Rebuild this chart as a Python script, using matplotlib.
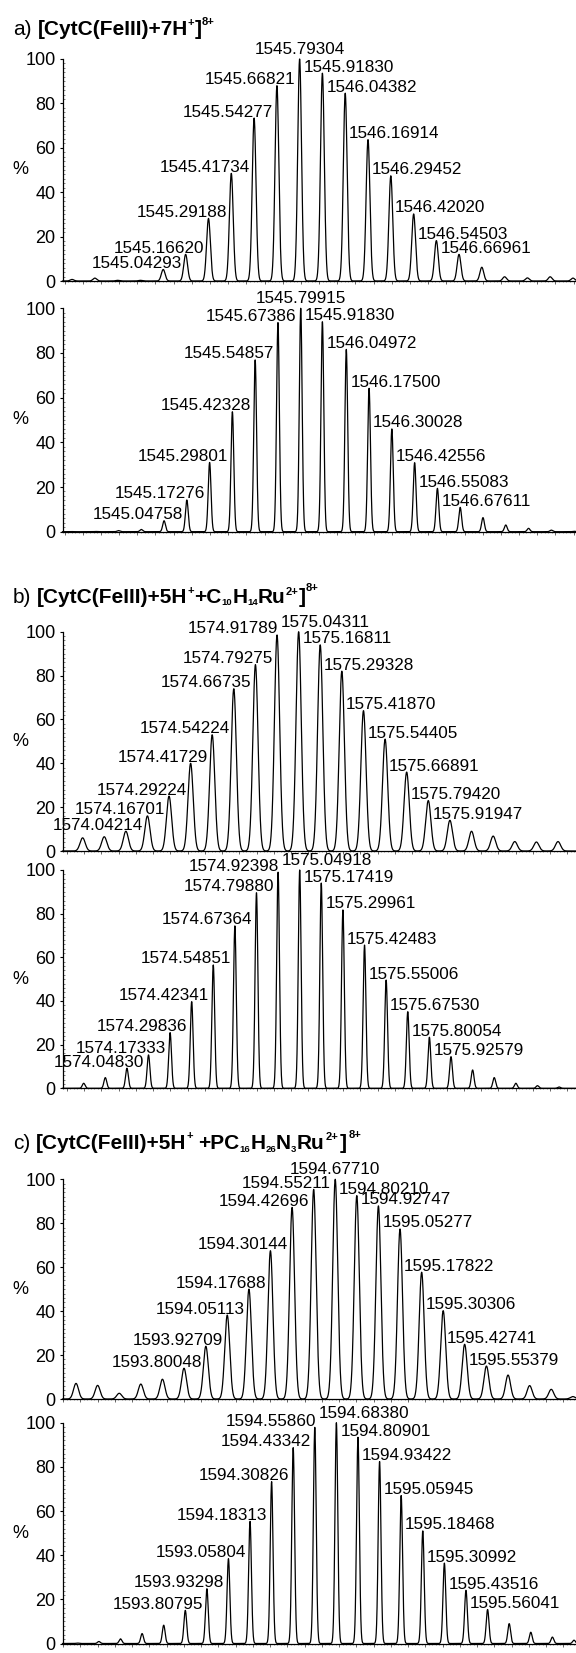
import numpy as np
import matplotlib
matplotlib.use("Agg")
import matplotlib.pyplot as plt
from matplotlib.ticker import MultipleLocator

plt.rcParams['font.family'] = ['Liberation Sans', 'DejaVu Sans']

# ---- a) [CytC(FeIII)+7H+]8+ ----
a_exp_mz = [1544.54161, 1544.66694, 1544.79227, 1544.91760,
            1545.04293, 1545.16620, 1545.29188, 1545.41734, 1545.54277,
            1545.66821, 1545.79304, 1545.91830, 1546.04382, 1546.16914,
            1546.29452, 1546.42020, 1546.54503, 1546.66961,
            1546.79494, 1546.92027, 1547.04560, 1547.17093, 1547.29626]
a_exp_int = [0.7, 1.3, 0.3, 0.3, 5.2, 12.0, 28.2, 48.5, 73.4, 88.0, 100.0,
             93.6, 84.6, 63.7, 47.4, 30.2, 18.2, 12.0, 6.2, 1.9, 1.4, 1.9, 1.3]
a_exp_lab = ['1545.04293', '1545.16620', '1545.29188', '1545.41734',
             '1545.54277', '1545.66821', '1545.79304', '1545.91830',
             '1546.04382', '1546.16914', '1546.29452', '1546.42020',
             '1546.54503', '1546.66961']
a_exp_first = 4

a_sim_mz = [1544.54626, 1544.67159, 1544.79692, 1544.92225,
            1545.04758, 1545.17276, 1545.29801, 1545.42328, 1545.54857,
            1545.67386, 1545.79915, 1545.91830, 1546.04972, 1546.17500,
            1546.30028, 1546.42556, 1546.55083, 1546.67611,
            1546.80144, 1546.92677, 1547.05210, 1547.17743, 1547.30276]
a_sim_int = [0.05, 0.1, 0.5, 1.0, 4.9, 14.2, 31.0, 53.7, 76.9, 93.6, 100.0,
             94.0, 81.6, 64.2, 46.0, 30.9, 19.4, 10.9, 6.3, 3.0, 1.5, 0.7, 0.2]
a_sim_lab = ['1545.04758', '1545.17276', '1545.29801', '1545.42328',
             '1545.54857', '1545.67386', '1545.79915', '1545.91830',
             '1546.04972', '1546.17500', '1546.30028', '1546.42556',
             '1546.55083', '1546.67611']
a_sim_first = 4

# ---- b) [CytC(FeIII)+5H+ +C10H14Ru2+]8+ ----
b_exp_mz = [1573.79160, 1573.91687,
            1574.04214, 1574.16701, 1574.29224, 1574.41729, 1574.54224,
            1574.66735, 1574.79275, 1574.91789, 1575.04311, 1575.16811,
            1575.29328, 1575.41870, 1575.54405, 1575.66891, 1575.79420,
            1575.91947,
            1576.04474, 1576.17001, 1576.29528, 1576.42055, 1576.54582]
b_exp_int = [6.0, 6.5, 9.0, 16.0, 25.0, 40.0, 53.0, 74.0, 85.0, 98.5, 100.0,
             94.0, 82.0, 64.0, 51.0, 36.0, 23.0, 14.0, 9.0, 6.8, 4.3, 4.1, 4.3]
b_exp_lab = ['1574.04214', '1574.16701', '1574.29224', '1574.41729',
             '1574.54224', '1574.66735', '1574.79275', '1574.91789',
             '1575.04311', '1575.16811', '1575.29328', '1575.41870',
             '1575.54405', '1575.66891', '1575.79420', '1575.91947']
b_exp_first = 2

b_sim_mz = [1573.79776, 1573.92303,
            1574.04830, 1574.17333, 1574.29836, 1574.42341, 1574.54851,
            1574.67364, 1574.79880, 1574.92398, 1575.04918, 1575.17419,
            1575.29961, 1575.42483, 1575.55006, 1575.67530, 1575.80054,
            1575.92579,
            1576.05104, 1576.17629, 1576.30154, 1576.42679, 1576.55204]
b_sim_int = [2.3, 4.9, 9.2, 15.3, 25.5, 39.7, 56.5, 74.4, 89.6, 99.0, 100.0,
             94.0, 81.7, 65.6, 49.6, 35.1, 23.4, 14.5, 8.4, 4.9, 2.3, 1.2, 0.6]
b_sim_lab = ['1574.04830', '1574.17333', '1574.29836', '1574.42341',
             '1574.54851', '1574.67364', '1574.79880', '1574.92398',
             '1575.04918', '1575.17419', '1575.29961', '1575.42483',
             '1575.55006', '1575.67530', '1575.80054', '1575.92579']
b_sim_first = 2

# ---- c) [CytC(FeIII)+5H+ +PC16H26N3Ru2+]8+ ----
c_exp_mz = [1593.17440, 1593.29962, 1593.42484, 1593.55006, 1593.67528,
            1593.80048, 1593.92709, 1594.05113, 1594.17688, 1594.30144,
            1594.42696, 1594.55211, 1594.67710, 1594.80210, 1594.92747,
            1595.05277, 1595.17822, 1595.30306, 1595.42741, 1595.55379,
            1595.67900, 1595.80421, 1595.92942, 1596.05463]
c_exp_int = [7.1, 6.2, 2.6, 6.8, 9.0, 14.0, 24.0, 38.2, 50.0, 67.5, 87.2,
             95.4, 100.0, 92.6, 87.9, 77.4, 57.7, 40.2, 24.9, 15.0, 10.9,
             6.1, 4.4, 1.1]
c_exp_lab = ['1593.80048', '1593.92709', '1594.05113', '1594.17688',
             '1594.30144', '1594.42696', '1594.55211', '1594.67710',
             '1594.80210', '1594.92747', '1595.05277', '1595.17822',
             '1595.30306', '1595.42741', '1595.55379']
c_exp_first = 5

c_sim_mz = [1593.18180, 1593.30703, 1593.43226, 1593.55749, 1593.68272,
            1593.80795, 1593.93298, 1594.05804, 1594.18313, 1594.30826,
            1594.43342, 1594.55860, 1594.68380, 1594.80901, 1594.93422,
            1595.05945, 1595.18468, 1595.30992, 1595.43516, 1595.56041,
            1595.68566, 1595.81091, 1595.93616, 1596.06141]
c_sim_int = [0.2, 0.9, 2.1, 4.5, 8.3, 15.0, 24.8, 38.4, 55.3, 73.3, 88.7,
             97.9, 100.0, 93.4, 82.4, 67.0, 51.0, 36.4, 24.1, 15.4, 9.0,
             5.1, 2.9, 1.5]
c_sim_lab = ['1593.80795', '1593.93298', '1593.05804', '1594.18313',
             '1594.30826', '1594.43342', '1594.55860', '1594.68380',
             '1594.80901', '1594.93422', '1595.05945', '1595.18468',
             '1595.30992', '1595.43516', '1595.56041']
c_sim_first = 5

W, H = 576, 1653
AX_L, AX_R = 62.5, 576.0
LAB_FS = 12.3

fig = plt.figure(figsize=(W / 100, H / 100), dpi=100)
cover = fig.add_axes([0, 0, 1, 1])
cover.axis('off')


def envelope(mz, inten, sigma, lo, hi):
    x = np.linspace(lo, hi, 8000)
    y = np.zeros_like(x)
    for m, h in zip(mz, inten):
        y += h * np.exp(-0.5 * ((x - m) / sigma) ** 2)
    return x, y


def spectrum(y0, y100, xlim, mz, inten, labels, first, sigma_px, mode):
    ax = fig.add_axes([AX_L / W, 1 - y0 / H, (AX_R - AX_L) / W, (y0 - y100) / H])
    ax.set_facecolor('none')
    lo, hi = xlim
    sigma = sigma_px * (hi - lo) / (AX_R - AX_L)
    x, y = envelope(mz, inten, sigma, lo, hi)
    ax.plot(x, y, color='black', lw=0.9, clip_on=False)
    ax.set_xlim(lo, hi)
    ax.set_ylim(0, 100)
    for s in ('top', 'right'):
        ax.spines[s].set_visible(False)
    for s in ('left', 'bottom'):
        ax.spines[s].set_linewidth(0.9)
    ax.set_yticks(range(0, 101, 20))
    ax.yaxis.set_minor_locator(MultipleLocator(2))
    ax.xaxis.set_major_locator(MultipleLocator(0.1))
    ax.xaxis.set_minor_locator(MultipleLocator(0.02))
    ax.tick_params(axis='y', which='major', direction='out', length=2.5,
                   width=0.8, labelsize=13, pad=2.5)
    ax.tick_params(axis='y', which='minor', direction='in', length=1.5,
                   width=0.5, color='0.3')
    ax.tick_params(axis='x', which='major', direction='out', length=1.8,
                   width=0.6, labelbottom=False, color='0.3')
    ax.tick_params(axis='x', which='minor', direction='out', length=1.0,
                   width=0.5, color='0.45')
    # "%" sits left of the tick labels, halfway up
    ax.text(-(AX_L - 20.7) / (AX_R - AX_L), 0.5, '%',
            transform=ax.transAxes, ha='center', va='center', fontsize=13)

    imax = int(np.argmax(inten))
    for k, text in enumerate(labels):
        i = first + k
        if i < imax:
            if mode == 'after' and i == imax - 1:
                xa, dx, ha = mz[i], 1, 'right'
            else:
                xa, dx, ha = mz[i + 1], -4, 'right'
        elif i == imax:
            if mode == 'center':
                xa, dx, ha = mz[i], 0, 'center'
            else:
                xa, dx, ha = mz[i - 1], 4, 'left'
        else:
            xa, dx, ha = mz[i - 1], 4, 'left'
        dy = 5 if i == imax else 1.5
        ax.annotate(text, (xa, inten[i]), xytext=(dx, dy),
                    textcoords='offset pixels', ha=ha, va='baseline',
                    fontsize=LAB_FS, annotation_clip=False)
    return ax


def title(x_px, base_px, pieces):
    prev = None
    for text, kind, dy, gap in pieces:
        if kind == 'r':
            size, weight = 15, 'normal'
        elif kind == 'b':
            size, weight = 15, 'bold'
        elif kind == 'sup':
            size, weight = 8, 'bold'
        else:
            size, weight = 6.8, 'bold'
        y = H - base_px + dy
        if prev is None:
            prev = cover.annotate(text, (x_px, y), xycoords='figure pixels',
                                  ha='left', va='baseline', fontsize=size,
                                  fontweight=weight)
        else:
            prev = cover.annotate(text, (1, y), xycoords=(prev, 'figure pixels'),
                                  xytext=(gap, 0), textcoords='offset pixels',
                                  ha='left', va='baseline', fontsize=size,
                                  fontweight=weight)


# experimental envelope on top, simulated pattern below
xa = (1544.489, 1547.313)
xb = (1573.675, 1576.650)
xc = (1593.096, 1596.073)

spectrum(281.0, 59.0, xa, a_exp_mz, a_exp_int, a_exp_lab, a_exp_first, 1.9, 'center')
spectrum(531.7, 308.3, xa, a_sim_mz, a_sim_int, a_sim_lab, a_sim_first, 1.4, 'center')
spectrum(851.0, 631.7, xb, b_exp_mz, b_exp_int, b_exp_lab, b_exp_first, 2.6, 'after')
spectrum(1088.3, 870.0, xb, b_sim_mz, b_sim_int, b_sim_lab, b_sim_first, 1.4, 'after')
spectrum(1399.0, 1179.3, xc, c_exp_mz, c_exp_int, c_exp_lab, c_exp_first, 2.5, 'center')
spectrum(1643.5, 1422.7, xc, c_sim_mz, c_sim_int, c_sim_lab, c_sim_first, 1.4, 'after')

title(13, 35, [('a)', 'r', 0, 0), ('[CytC(FeIII)+7H', 'b', 0, 6),
               ('+', 'sup', 9, 0), (']', 'b', 0, 0), ('8+', 'sup', 10, 0)])
title(13, 602.7, [('b)', 'r', 0, 0), ('[CytC(FeIII)+5H', 'b', 0, 6),
                  ('+', 'sup', 9, 0), ('+C', 'b', 0, 0), ('10', 'sub', -2.5, 0),
                  ('H', 'b', 0, 0), ('14', 'sub', -2.5, 0), ('Ru', 'b', 0, 0),
                  ('2+', 'sup', 8, 0), (']', 'b', 0, 0), ('8+', 'sup', 12, 0)])
title(13, 1149.3, [('c)', 'r', 0, 0), ('[CytC(FeIII)+5H', 'b', 0, 6),
                   ('+', 'sup', 10, 0), ('+PC', 'b', 0, 5), ('16', 'sub', -2.5, 0),
                   ('H', 'b', 0, 0), ('26', 'sub', -2.5, 0), ('N', 'b', 0, 0),
                   ('3', 'sub', -2.5, 0), ('Ru', 'b', 0, 0),
                   ('2+', 'sup', 9, 1), (']', 'b', 0, 2), ('8+', 'sup', 11, 2)])

fig.savefig('out.png', dpi=100)
